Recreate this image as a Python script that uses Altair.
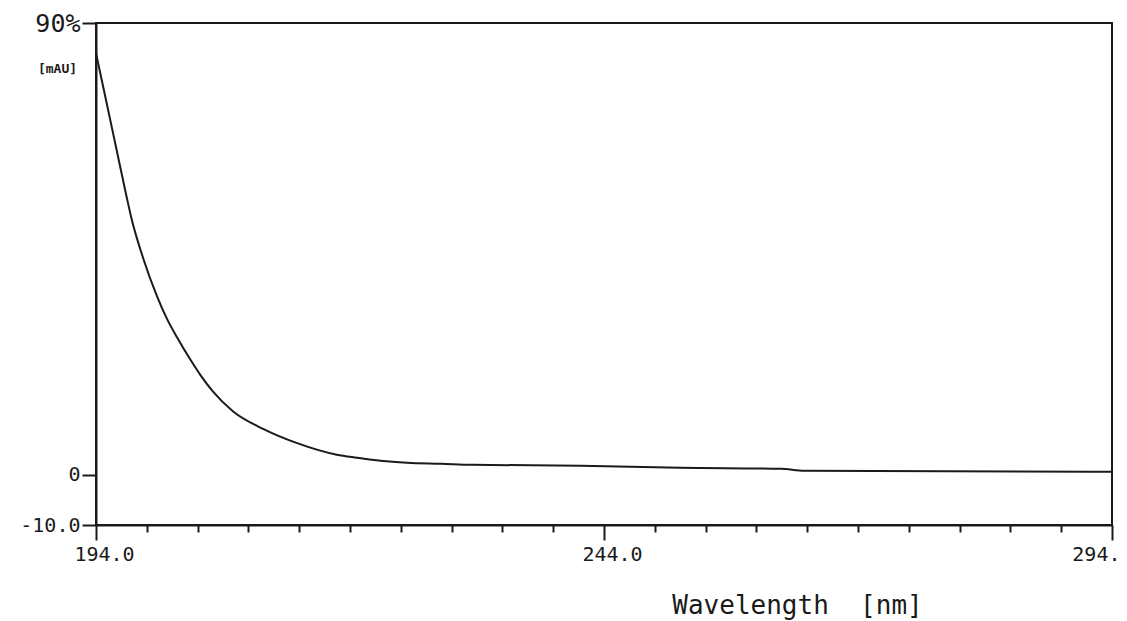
import altair as alt
import pandas as pd

# Spectrum
wavelength = [194.0, 195.0, 196.0, 197.0, 197.5, 198.7, 200.0, 201.0, 202.0, 203.3,
              204.3, 205.5, 207.5, 210.5, 213.8, 217.7, 219.7, 222.0, 224.6, 228.0,
              231.0, 241.7, 251.5, 261.4, 263.7, 294.0]
absorbance = [84.0, 74.5, 65.0, 55.5, 51.0, 42.8, 35.6, 31.0, 27.3, 22.9,
              19.8, 16.6, 12.6, 9.1, 6.3, 4.0, 3.4, 2.8, 2.4, 2.2,
              2.0, 1.8, 1.4, 1.2, 0.8, 0.6]

x_ticks = list(range(194, 295, 5))
y_ticks = [-10, 0, 90]

df = pd.DataFrame({"wl": wavelength, "mau": absorbance})

FONT = "DejaVu Sans Mono"
INK = "#1a1a1a"

x_axis = alt.Axis(
    values=x_ticks,
    labelExpr="datum.value == 194 ? '194.0' : datum.value == 244 ? '244.0' : datum.value == 294 ? '294.' : ''",
    tickSize={"condition": {"test": "(datum.value - 194) % 50 == 0", "value": 15}, "value": 7},
    labelAlign={"condition": {"test": "datum.value == 294", "value": "right"}, "value": "center"},
    labelOffset=8,
    labelFlush=False,
    labelBound=False,
    labelPadding=4,
    tickColor=INK, tickWidth=2,
    domainColor=INK, domainWidth=2,
    grid=False,
    labelFont=FONT, labelFontSize=20, labelColor=INK,
    title="Wavelength\u00a0\u00a0[nm]",
    titleFont=FONT, titleFontSize=26, titleFontWeight="normal", titleColor=INK,
    titleX=701, titleY=88, titleBaseline="alphabetic", titleAlign="center",
)

y_axis = alt.Axis(
    values=y_ticks,
    labelExpr="datum.value == 90 ? '90%' : datum.value == -10 ? '-10.0' : '0'",
    labelFontSize={"condition": {"test": "datum.value == 90", "value": 25}, "value": 20},
    tickSize=14, tickColor=INK, tickWidth=2,
    domainColor=INK, domainWidth=2,
    grid=False,
    labelFont=FONT, labelColor=INK, labelPadding=2,
    title="[mAU]", titleAngle=0, titleFont=FONT, titleFontSize=13, titleFontWeight="bold",
    titleColor=INK, titleX=-39, titleY=49, titleAlign="center", titleBaseline="alphabetic",
)

chart = alt.Chart(df).mark_line(color=INK, strokeWidth=2, interpolate="monotone").encode(
    x=alt.X("wl:Q", scale=alt.Scale(domain=[194, 294], nice=False, zero=False), axis=x_axis),
    y=alt.Y("mau:Q", scale=alt.Scale(domain=[-10, 90], nice=False, zero=False), axis=y_axis),
).properties(
    width=1016, height=502,
    autosize=alt.AutoSizeParams(type="none"),
    padding={"left": 96, "top": 23, "right": 15, "bottom": 96},
    background="white",
).configure_view(stroke=INK, strokeWidth=2)

chart.save("out.html", embed_options={"renderer": "svg", "actions": False})
